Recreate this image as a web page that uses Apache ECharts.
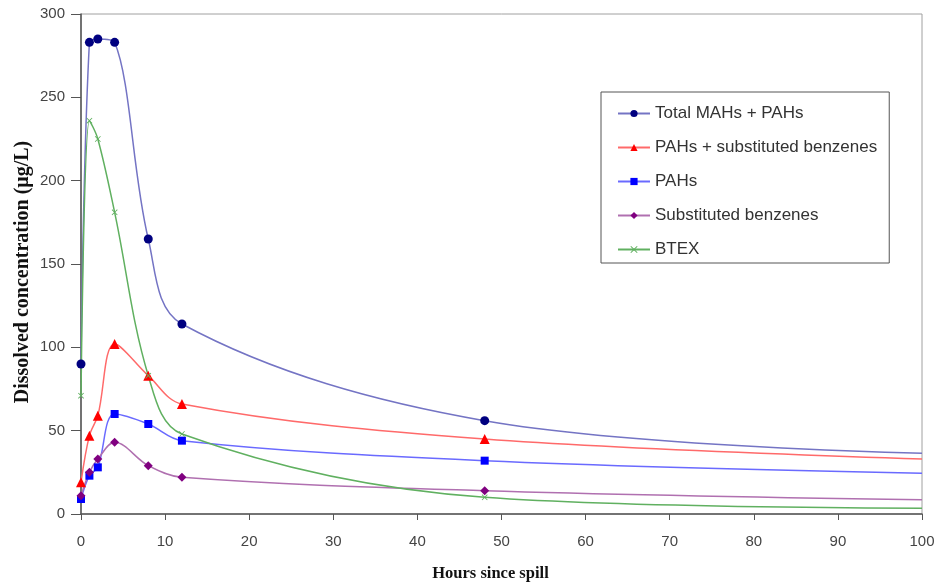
<!DOCTYPE html>
<html>
<head>
<meta charset="utf-8">
<script src="https://cdn.jsdelivr.net/npm/echarts@6/dist/echarts.min.js"></script>
<style>
html,body{margin:0;padding:0;background:#fff;}
#chart{width:939px;height:588px;}
</style>
</head>
<body>
<div id="chart"></div>
<script>
const hours = [0, 1, 2, 4, 8, 12, 48, 100];
const totalMAHsPAHs = [90, 283, 285, 283, 165, 114, 56, 36.5];
const pahsSubBenz = [19, 47, 59, 102, 83, 66, 45, 33];
const pahs = [9, 23, 28, 60, 54, 44, 32, 24.5];
const subBenz = [11, 25, 33, 43, 29, 22, 14, 8.5];
const btex = [71, 236, 225, 181, 83, 48, 10, 3.5];
const xTicks = [0, 10, 20, 30, 40, 50, 60, 70, 80, 90, 100];
const yTicks = [0, 50, 100, 150, 200, 250, 300];

const xMark = 'path://M0,1L1,0L5,4L9,0L10,1L6,5L10,9L9,10L5,6L1,10L0,9L4,5Z';

function pts(vals) {
  return hours.map((h, i) => {
    const d = { value: [h, vals[i]] };
    if (h === 100) d.symbol = 'none';
    return d;
  });
}

function mk(name, vals, lineColor, markColor, symbol, size) {
  return {
    name: name,
    type: 'line',
    data: pts(vals),
    smooth: 0.35,
    symbol: symbol,
    symbolSize: size,
    showAllSymbol: true,
    lineStyle: { color: lineColor, width: 1.5 },
    itemStyle: { color: markColor, borderWidth: 0 },
    emphasis: { disabled: true },
    z: 2
  };
}

const chart = echarts.init(document.getElementById('chart'), null, { renderer: 'canvas' });
chart.setOption({
  animation: false,
  backgroundColor: '#fff',
  grid: {
    left: 81, right: 17, top: 14, bottom: 74,
    show: true, borderColor: '#a0a0a0', borderWidth: 1, backgroundColor: 'transparent'
  },
  legend: {
    left: 601, top: 92,
    orient: 'vertical',
    itemWidth: 32, itemHeight: 9, itemGap: 17,
    padding: [13, 12, 5, 16],
    borderColor: '#555', borderWidth: 1, backgroundColor: '#fff',
    textStyle: { fontFamily: 'Liberation Sans, Arial, sans-serif', fontSize: 17, color: '#333' },
    data: ['Total MAHs + PAHs', 'PAHs + substituted benzenes', 'PAHs', 'Substituted benzenes', 'BTEX']
  },
  xAxis: {
    type: 'value', min: xTicks[0], max: xTicks[xTicks.length - 1], interval: 10,
    name: 'Hours since spill', nameLocation: 'middle', nameGap: 51, nameMoveOverlap: false,
    nameTextStyle: { fontFamily: 'Liberation Serif, Times New Roman, serif', fontWeight: 'bold', fontSize: 16.5, color: '#111', padding: [0, 22, 0, 0] },
    axisLine: { show: true, lineStyle: { color: '#555', width: 1.5 } },
    axisTick: { show: true, inside: false, length: 6, lineStyle: { color: '#555' } },
    axisLabel: { margin: 20, fontFamily: 'Liberation Sans, Arial, sans-serif', fontSize: 15, color: '#444' },
    splitLine: { show: false }
  },
  yAxis: {
    type: 'value', min: yTicks[0], max: yTicks[yTicks.length - 1], interval: 50,
    name: 'Dissolved concentration (μg/L)', nameLocation: 'middle', nameGap: 48, nameRotate: 90, nameMoveOverlap: false,
    nameTextStyle: { fontFamily: 'Liberation Serif, Times New Roman, serif', fontWeight: 'bold', fontSize: 20, color: '#111', padding: [0, 16, 0, 0] },
    axisLine: { show: true, lineStyle: { color: '#555', width: 1.5 } },
    axisTick: { show: true, inside: false, length: 10, lineStyle: { color: '#555' } },
    axisLabel: { margin: 16, fontFamily: 'Liberation Sans, Arial, sans-serif', fontSize: 15, color: '#444' },
    splitLine: { show: false }
  },
  series: [
    mk('Total MAHs + PAHs', totalMAHsPAHs, '#7474c4', '#000080', 'circle', 9),
    mk('PAHs + substituted benzenes', pahsSubBenz, '#ff6a6a', '#ff0000', 'triangle', 10),
    mk('PAHs', pahs, '#6a6aff', '#0000ff', 'rect', 8),
    mk('Substituted benzenes', subBenz, '#b070b0', '#800080', 'diamond', 9),
    mk('BTEX', btex, '#60b060', '#60b060', xMark, 6)
  ]
});
</script>
</body>
</html>
